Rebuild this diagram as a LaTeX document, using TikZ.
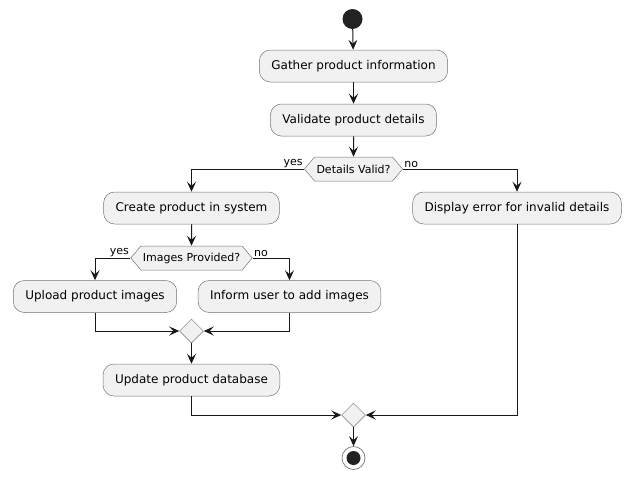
\documentclass[tikz,border=0pt]{standalone}
\usepackage{fontspec}
\setmainfont{DejaVu Sans}
\usetikzlibrary{arrows.meta, shapes.geometric, shapes.symbols}

\definecolor{boxfill}{HTML}{F1F1F1}
\definecolor{linecol}{HTML}{181818}
\definecolor{dotcol}{HTML}{222222}

\begin{document}
\begin{tikzpicture}[x = 1pt, y = -1pt,
	action/.style = {rectangle, rounded corners = 11pt, draw = linecol!60, line width = 0.5pt, fill = boxfill,
		minimum height = 32pt, inner xsep = 12pt, font = \fontsize{12}{14}\selectfont},
	choice/.style = {signal, signal to = east and west, signal pointer angle = 100, draw = linecol!60,
		line width = 0.5pt, fill = boxfill, minimum height = 24pt, inner xsep = 2pt, font = \fontsize{11}{13}\selectfont},
	merge/.style = {diamond, draw = linecol!60, line width = 0.5pt, fill = boxfill, minimum size = 24pt, inner sep = 0pt},
	lbl/.style = {inner sep = 1pt, font = \fontsize{11}{13}\selectfont},
	flow/.style = {draw = linecol, line width = 1pt, -{Stealth[length = 10pt, width = 9pt, inset = 4pt]}}
]

\useasboundingbox (0,0) rectangle (631, 479);

\node[circle, fill = dotcol, minimum size = 20pt, inner sep = 0pt] (start) at (352.5, 19) {};

\node[action] (gather) at (353.5, 66) {Gather product information};
\node[action] (validate) at (353.5, 120) {Validate product details};
\node[choice] (valid) at (353.5, 169) {Details Valid?};

\node[action] (create) at (191.5, 208) {Create product in system};
\node[action] (error) at (517, 208) {Display error for invalid details};
\node[choice] (images) at (191.5, 258) {Images Provided?};

\node[action] (upload) at (95, 296.5) {Upload product images};
\node[action] (inform) at (289.5, 296.5) {Inform user to add images};
\node[merge] (join1) at (191.5, 331) {};
\node[action] (update) at (191.5, 380) {Update product database};
\node[merge] (join2) at (353.5, 415) {};

\node[circle, draw = linecol!60, line width = 0.7pt, fill = white, minimum size = 23pt, inner sep = 0pt] (stop) at (353.5, 458) {};
\node[circle, fill = dotcol, minimum size = 14pt, inner sep = 0pt] (stopdot) at (stop) {};

\draw[flow] (start) -- (gather);
\draw[flow] (gather) -- (validate);
\draw[flow] (validate) -- (valid);
\draw[flow] (valid.west) node[lbl, above left] {yes} -| (create);
\draw[flow] (valid.east) node[lbl, above right] {no} -| (error);
\draw[flow] (create) -- (images);
\draw[flow] (images.west) node[lbl, above left] {yes} -| (upload);
\draw[flow] (images.east) node[lbl, above right] {no} -| (inform);
\draw[flow] (upload) |- (join1.west);
\draw[flow] (inform) |- (join1.east);
\draw[flow] (join1) -- (update);
\draw[flow] (update) |- (join2.west);
\draw[flow] (error) |- (join2.east);
\draw[flow] (join2) -- (stop);

\end{tikzpicture}
\end{document}
